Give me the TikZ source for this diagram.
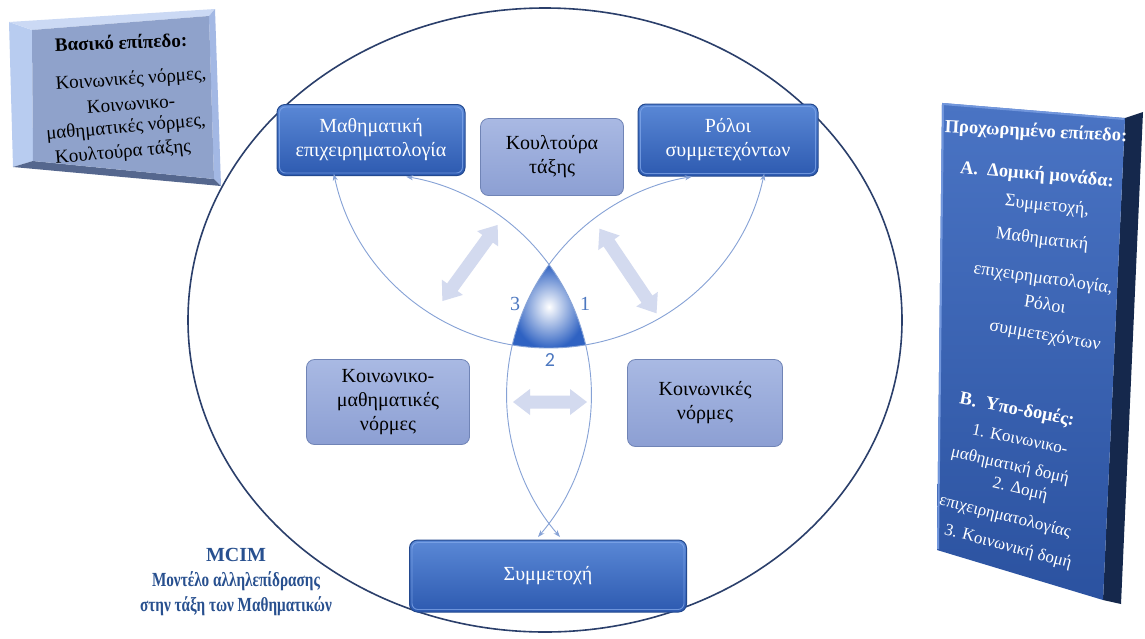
\documentclass[tikz,border=0pt]{standalone}
\usepackage{fontspec}
\setmainfont{Liberation Serif}
\newfontfamily\calfont{Carlito}
\newfontfamily\narrowserif[FakeStretch=0.76]{Liberation Serif}
\usetikzlibrary{arrows.meta}

\definecolor{rimline}{HTML}{2B3F6B}
\definecolor{dtop}{HTML}{5A88D6}
\definecolor{dbot}{HTML}{2D5AB0}
\definecolor{dedge}{HTML}{23498F}
\definecolor{dhigh}{HTML}{82A8EA}
\definecolor{ltop}{HTML}{A9B9E3}
\definecolor{lbot}{HTML}{8C9FD3}
\definecolor{ledge}{HTML}{7084B6}
\definecolor{arccol}{HTML}{86A2D6}
\definecolor{blockcol}{HTML}{D3DAEF}
\definecolor{tricol}{HTML}{2F62C2}
\definecolor{digitcol}{HTML}{4D78C0}
\definecolor{titleblue}{HTML}{28508F}
\definecolor{bface}{HTML}{8FA2CB}
\definecolor{bleft}{HTML}{B8CCF0}
\definecolor{btop}{HTML}{CBD9F4}
\definecolor{bright}{HTML}{A3B8E4}
\definecolor{bbottom}{HTML}{55678E}
\definecolor{aftop}{HTML}{4A74C4}
\definecolor{afbot}{HTML}{2B52A0}
\definecolor{aside}{HTML}{15284C}
\definecolor{abevel}{HTML}{7196DC}

\tikzset{
  darkbox/.style={rounded corners=8pt, draw=dedge, line width=1pt,
    top color=dtop, bottom color=dbot, text=white, align=center,
    inner sep=0pt, font=\fontsize{20}{24}\selectfont},
  lightbox/.style={rounded corners=8pt, draw=ledge, line width=0.8pt,
    top color=ltop, bottom color=lbot, text=black, align=center,
    inner sep=0pt, font=\fontsize{20}{24}\selectfont},
  bevelhi/.style={draw=dhigh, line width=0.9pt, rounded corners=6pt, opacity=0.75},
  link/.style={draw=arccol, line width=0.9pt,
    {Stealth[length=7pt,width=5pt]}-{Stealth[length=7pt,width=5pt]}},
  basic/.style={text=black, inner sep=0pt, font=\fontsize{19}{22}\selectfont},
  advtitle/.style={text=white, inner sep=0pt, font=\bfseries\fontsize{18.5}{21}\selectfont},
  advup/.style={text=white, inner sep=0pt, font=\fontsize{18}{21}\selectfont},
  advlow/.style={text=white, inner sep=0pt, font=\fontsize{17}{20}\selectfont},
  digit/.style={text=digitcol, font=\fontsize{20}{22}\selectfont},
}

% light double-headed block arrow: centre, angle, half length
\newcommand\dblarrow[3]{%
  \begin{scope}[shift={#1}, rotate=#2]
    \fill[blockcol] (-#3,0) -- (-#3+17,-13) -- (-#3+17,-6.5) -- (#3-17,-6.5)
      -- (#3-17,-13) -- (#3,0) -- (#3-17,13) -- (#3-17,6.5)
      -- (-#3+17,6.5) -- (-#3+17,13) -- cycle;
  \end{scope}}

% inner highlight of a dark box
\newcommand\boxhighlight[1]{%
  \draw[bevelhi] ([shift={(3,3)}]#1.north west) rectangle ([shift={(-3,-3)}]#1.south east);}

\begin{document}
\begin{tikzpicture}[x=1pt,y=-1pt]
\useasboundingbox (0,0) rectangle (1145,638);
\fill[white] (0,0) rectangle (1145,638);

% outer ellipse of the model
\draw[rimline, line width=1.6pt] (545,320) ellipse [x radius=357, y radius=312];

% basic level panel (tilted slab)
\fill[bleft]   (9,22) -- (32,30) -- (33,161) -- (13,167) -- cycle;
\fill[btop]    (9,22) -- (215,9) -- (209,16) -- (32,30) -- cycle;
\fill[bright]  (215,9) -- (221,186) -- (214,179) -- (209,16) -- cycle;
\fill[bbottom] (13,167) -- (33,161) -- (214,179) -- (221,186) -- cycle;
\fill[bface]   (32,30) -- (209,16) -- (214,179) -- (33,161) -- cycle;
\node[basic, font=\bfseries\fontsize{19}{22}\selectfont, rotate=2] (b0) at (121,42) {Βασικό επίπεδο:};
\node[basic, rotate=4] (b1) at (131,80) {Κοινωνικές νόρμες,};
\node[basic, rotate=4] (b2) at (131,104) {Κοινωνικο-};
\node[basic, rotate=5] (b3) at (126,128) {μαθηματικές νόρμες,};
\node[basic, rotate=5] (b4) at (123,153) {Κουλτούρα τάξης};

% advanced level panel (tilted slab)
\fill[aside] (1125,118) -- (1143,112) -- (1121,604) -- (1103,600) -- cycle;
\shade[top color=aftop, bottom color=afbot] (942,103) -- (1125,118) -- (1103,600) -- (937,550) -- cycle;
\draw[abevel, line width=2pt] (938,549) -- (943,104) -- (1124,119);
\node[advtitle, rotate=-3]  (a0)  at (1036,132) {Προχωρημένο επίπεδο:};
\node[advtitle, rotate=-5]  (a1)  at (1037,175) {Α.\ \ Δομική μονάδα:};
\node[advup, rotate=-6]   (a2)  at (1047,206) {Συμμετοχή,};
\node[advup, rotate=-7]   (a3)  at (1042,240) {Μαθηματική};
\node[advup, rotate=-8]   (a4)  at (1043,279) {επιχειρηματολογία,};
\node[advup, rotate=-9]   (a5)  at (1045,304) {Ρόλοι};
\node[advup, rotate=-10]  (a6)  at (1045,336) {συμμετεχόντων};
\node[advtitle, rotate=-11] (a7) at (1017,410) {Β.\ \ Υπο-δομές:};
\node[advlow, rotate=-12] (a8)  at (1020,439) {1. Κοινωνικο-};
\node[advlow, rotate=-13] (a9)  at (1010,466) {μαθηματική δομή};
\node[advlow, rotate=-13] (a10) at (1020,490) {2. Δομή};
\node[advlow, rotate=-14] (a11) at (1005,517) {επιχειρηματολογίας};
\node[advlow, rotate=-15] (a12) at (1008,547) {3. Κοινωνική δομή};

% central triangle bounded by the three arcs
\shade[inner color=white, outer color=tricol]
  (549,264.7) arc[start angle=-36, end angle=-12.9, radius=220]
  arc[start angle=80.45, end angle=99.55, radius=220]
  arc[start angle=192.9, end angle=216, radius=220] -- cycle;

% block arrows between the pairs of boxes
\dblarrow{(470,263)}{54}{47}
\dblarrow{(628,271)}{-56}{51}
\dblarrow{(550,402)}{0}{37}

% boxes
\node[darkbox, minimum width=188pt, minimum height=71pt] (arg) at (371,140) {Μαθηματική\\επιχειρηματολογία};
\node[lightbox, minimum width=143pt, minimum height=77pt] (cult) at (552,157) {Κουλτούρα\\τάξης};
\node[darkbox, minimum width=180pt, minimum height=72pt] (roles) at (728,140) {Ρόλοι\\συμμετεχόντων};
\node[lightbox, minimum width=163pt, minimum height=85pt] (smn) at (388,402) {Κοινωνικο-\\μαθηματικές\\νόρμες};
\node[lightbox, minimum width=155pt, minimum height=87pt] (sn) at (705,403) {Κοινωνικές\\νόρμες};
\node[darkbox, minimum width=277pt, minimum height=72pt] (part) at (548,576) {Συμμετοχή};
\boxhighlight{arg}
\boxhighlight{roles}
\boxhighlight{part}

% arc end points on the boxes
\coordinate (e1) at (333.8,173.7);
\coordinate (e2) at (560,537);
\coordinate (e3) at (538,537);

% the three arcs
\draw[link] (e1) arc[start angle=168, end angle=12, radius=220];
\draw[link] (e2) arc[start angle=139.4, end angle=260.8, radius=220];
\draw[link] (e3) arc[start angle=40.6, end angle=-80.8, radius=220];

% arc numbers
\node[digit] (n3) at (515,304) {3};
\node[digit] (n1) at (585,304) {1};
\node[digit, font=\calfont\fontsize{20}{22}\selectfont] (n2) at (550,360) {2};

% model title
\node[text=titleblue, font=\bfseries\fontsize{20}{25}\selectfont, align=center] (title) at (236,582)
  {MCIM\\{\narrowserif Μοντέλο αλληλεπίδρασης}\\{\narrowserif στην τάξη των Μαθηματικών}};
\end{tikzpicture}
\end{document}
